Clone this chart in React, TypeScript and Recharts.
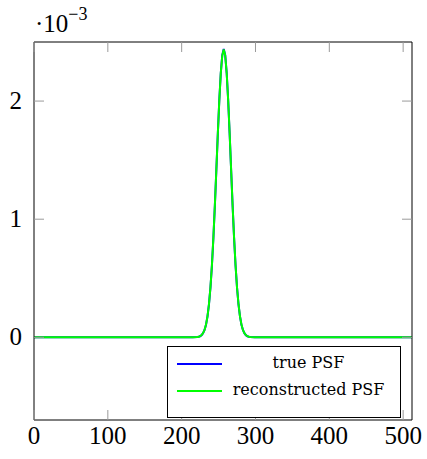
import React from 'react';
import {LineChart, Line, XAxis, YAxis} from 'recharts';

// pixel positions along the PSF (x) and values in units of 1e-3
const positions = [
     0, 64, 128, 192, 215, 221, 223, 225, 227, 229, 231, 233, 235, 237, 239, 241, 243, 245, 247,
     249, 251, 253, 255, 257, 259, 261, 263, 265, 267, 269, 271, 273, 275, 277, 279, 281, 283,
     285, 287, 289, 291, 293, 299, 320, 384, 448, 512,
];
const truePsf = [
     0, 0, 0, 0, 0, 0.002, 0.005, 0.009, 0.018, 0.035, 0.062, 0.107, 0.177, 0.279, 0.421, 0.608,
     0.843, 1.117, 1.418, 1.724, 2.007, 2.237, 2.388, 2.44, 2.388, 2.237, 2.007, 1.724, 1.418,
     1.117, 0.843, 0.608, 0.421, 0.279, 0.177, 0.107, 0.062, 0.035, 0.018, 0.009, 0.005, 0.002,
     0, 0, 0, 0, 0,
];
const reconstructedPsf = [
     0, 0, 0, 0, 0, 0.002, 0.004, 0.01, 0.019, 0.036, 0.063, 0.108, 0.178, 0.281, 0.423, 0.61,
     0.846, 1.12, 1.421, 1.726, 2.008, 2.236, 2.385, 2.436, 2.386, 2.236, 2.009, 1.727, 1.42,
     1.118, 0.845, 0.61, 0.422, 0.28, 0.178, 0.108, 0.062, 0.035, 0.019, 0.009, 0.004, 0.002,
     0, 0, 0, 0, 0,
];
const xTicks = [0, 100, 200, 300, 400, 500];
const yTicks = [0, 1, 2];
const seriesNames = ['true PSF', 'reconstructed PSF'];
const seriesColors = ['#0000ff', '#00ff00'];

const data = positions.map((x, i) => ({
     x,
     truePsf: truePsf[i],
     reconstructedPsf: reconstructedPsf[i],
}));

const FONT = '"Liberation Serif", "Times New Roman", serif';
const TICK_LEN = 10;
const TICK_COLOR = '#9a9a9a';

const BottomTick = (props: any) => {
     const {x, y, payload} = props;
     return (
          <g>
               <line x1={x} x2={x} y1={y} y2={y - TICK_LEN} stroke={TICK_COLOR} />
               <text x={x} y={y + 24} textAnchor="middle" fontSize={25} fontFamily={FONT} fill="#000">
                    {payload.value}
               </text>
          </g>
     );
};

const TopTick = (props: any) => {
     const {x, y} = props;
     return <line x1={x} x2={x} y1={y} y2={y + TICK_LEN} stroke={TICK_COLOR} />;
};

const LeftTick = (props: any) => {
     const {x, y, payload} = props;
     return (
          <g>
               <line x1={x} x2={x + TICK_LEN} y1={y} y2={y} stroke={TICK_COLOR} />
               <text x={x - 12} y={y + 8} textAnchor="end" fontSize={25} fontFamily={FONT} fill="#000">
                    {payload.value}
               </text>
          </g>
     );
};

const RightTick = (props: any) => {
     const {x, y} = props;
     return <line x1={x} x2={x - TICK_LEN} y1={y} y2={y} stroke={TICK_COLOR} />;
};

const LegendBox = () => {
     const text: React.CSSProperties = {
          position: 'absolute',
          left: 58,
          width: 165,
          textAlign: 'center',
          fontFamily: '"DejaVu Serif", serif',
          fontSize: 16,
          lineHeight: '18px',
          color: '#000',
          whiteSpace: 'nowrap',
     };
     return (
          <div
               style={{
                    position: 'absolute',
                    left: 167,
                    top: 346,
                    width: 234,
                    height: 72,
                    boxSizing: 'border-box',
                    border: '1px solid #000',
                    background: '#fff',
               }}
          >
               {seriesNames.map((name, i) => (
                    <React.Fragment key={name}>
                         <div
                              style={{
                                   position: 'absolute',
                                   left: 9,
                                   top: 16 + i * 27,
                                   width: 45,
                                   height: 2,
                                   background: seriesColors[i],
                              }}
                         />
                         <div style={{...text, top: 7 + i * 27}}>{name}</div>
                    </React.Fragment>
               ))}
          </div>
     );
};

const App = () => {
     return (
          <div style={{position: 'absolute', left: 0, top: 0, width: 427, height: 459, background: '#fff'}}>
               <LineChart width={427} height={459} data={data} margin={{top: 12, right: 0, bottom: 0, left: 0}}>
                    <XAxis
                         xAxisId="bottom"
                         type="number"
                         dataKey="x"
                         domain={[0, 512]}
                         ticks={xTicks}
                         allowDataOverflow
                         height={39}
                         stroke="#000"
                         tickLine={false}
                         tickSize={0}
                         tickMargin={0}
                         tick={<BottomTick />}
                    />
                    <XAxis
                         xAxisId="top"
                         orientation="top"
                         type="number"
                         dataKey="x"
                         domain={[0, 512]}
                         ticks={xTicks}
                         allowDataOverflow
                         height={30}
                         stroke="#000"
                         tickLine={false}
                         tickSize={0}
                         tickMargin={0}
                         tick={<TopTick />}
                    />
                    <YAxis
                         yAxisId="left"
                         type="number"
                         domain={[-0.7, 2.5]}
                         ticks={yTicks}
                         allowDataOverflow
                         width={34}
                         stroke="#000"
                         tickLine={false}
                         tickSize={0}
                         tickMargin={0}
                         tick={<LeftTick />}
                    />
                    <YAxis
                         yAxisId="right"
                         orientation="right"
                         type="number"
                         domain={[-0.7, 2.5]}
                         ticks={yTicks}
                         allowDataOverflow
                         width={15}
                         stroke="#000"
                         tickLine={false}
                         tickSize={0}
                         tickMargin={0}
                         tick={<RightTick />}
                    />
                    <Line
                         xAxisId="bottom"
                         yAxisId="left"
                         type="linear"
                         dataKey="truePsf"
                         name={seriesNames[0]}
                         stroke={seriesColors[0]}
                         strokeWidth={2}
                         dot={false}
                         isAnimationActive={false}
                    />
                    <Line
                         xAxisId="bottom"
                         yAxisId="left"
                         type="linear"
                         dataKey="reconstructedPsf"
                         name={seriesNames[1]}
                         stroke={seriesColors[1]}
                         strokeWidth={2}
                         dot={false}
                         isAnimationActive={false}
                    />
               </LineChart>
               <LegendBox />
               <svg width={427} height={40} style={{position: 'absolute', left: 0, top: 0}}>
                    <text x={35} y={32} fontFamily={FONT} fontSize={25} fill="#000">
                         ·10
                         <tspan dy={-12} fontSize={18}>
                              −3
                         </tspan>
                    </text>
               </svg>
          </div>
     );
};

export default App;
